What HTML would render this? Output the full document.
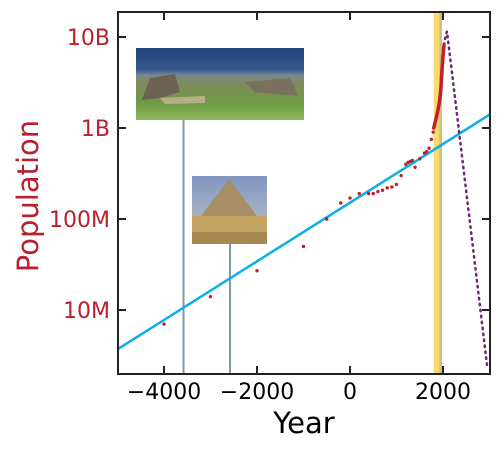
<!DOCTYPE html>
<html><head><meta charset="utf-8"><style>
body{margin:0;background:#fff}
svg{display:block;font-family:"DejaVu Sans","Liberation Sans",sans-serif}
</style></head><body>
<svg id="chart" width="501" height="450">
<defs>
<clipPath id="pc"><rect x="118" y="12" width="372" height="362"/></clipPath>
<linearGradient id="sea" x1="0" y1="0" x2="0" y2="1">
<stop offset="0" stop-color="#23407a"/><stop offset="0.3" stop-color="#34588f"/><stop offset="0.38" stop-color="#7a8a90"/><stop offset="0.5" stop-color="#7f8a5a"/><stop offset="0.75" stop-color="#6e9a45"/><stop offset="1" stop-color="#8cb85a"/>
</linearGradient>
<linearGradient id="egy" x1="0" y1="0" x2="0" y2="1">
<stop offset="0" stop-color="#8096c0"/><stop offset="0.6" stop-color="#a8b2c4"/><stop offset="0.62" stop-color="#c9a868"/><stop offset="1" stop-color="#b08a50"/>
</linearGradient>
</defs>
<g id="plot" clip-path="url(#pc)"></g>
<g id="axes"></g>
</svg>
<script>
const histYears=[-5000,-4000,-3000,-2000,-1000,-500,-200,0,200,400,500,600,700,800,900,1000,1100,1200,1250,1300,1340,1400,1500,1600,1650,1700,1750,1790];
const histPop=[5e6,7e6,14e6,27e6,50e6,100e6,150e6,170e6,190e6,190e6,190e6,200e6,207e6,220e6,225e6,240e6,300e6,400e6,420e6,430e6,440e6,370e6,460e6,530e6,550e6,600e6,750e6,900e6];
const modYears=[1800,1820,1850,1870,1900,1920,1927,1940,1950,1960,1970,1974,1980,1987,1990,1999,2005,2011,2015,2022];
const modPop=[1e9,1.1e9,1.26e9,1.4e9,1.65e9,1.9e9,2e9,2.3e9,2.5e9,3e9,3.7e9,4e9,4.4e9,5e9,5.3e9,6e9,6.5e9,7e9,7.4e9,8.2e9];
const projYears=[2022,2060,2085,2200,2500,2950];
const projPop=[8.2e9,10.5e9,11.5e9,3.8e9,2.0e8,2.4e6];
const trendYears=[-5000,3000];
const trendPop=[3.7e6,1.4e9];
const xTicks=[-4000,-2000,0,2000];
const xTickLabels=["\u22124000","\u22122000","0","2000"];
const yTicks=[1e7,1e8,1e9,1e10];
const yTickLabels=["10M","100M","1B","10B"];
const markerYears=[-3580,-2580];
const bandYears=[1800,1940];
const band2Years=[1920,1980];

const X=y=>350+y*0.0465;
const Y=v=>310-91*(Math.log10(v)-7);
const NS="http://www.w3.org/2000/svg";
const plot=document.getElementById('plot'),axes=document.getElementById('axes');
function mk(t,a,p){const e=document.createElementNS(NS,t);for(const k in a)e.setAttribute(k,a[k]);(p||plot).appendChild(e);return e;}

let e=mk('rect',{x:X(bandYears[0]),y:12,width:X(bandYears[1])-X(bandYears[0]),height:362,fill:'#fbd96b'});


e=mk('rect',{x:X(band2Years[0]),y:12,width:X(band2Years[1])-X(band2Years[0]),height:362,fill:'#cdbf8a'});



const imgTop=[[48,120],[176,244]];
markerYears.forEach((yr,i)=>{
  const l=mk('line',{x1:X(yr),x2:X(yr),y1:imgTop[i][1],y2:374,stroke:'#7f96a4','stroke-width':2});
  
  
});

e=mk('line',{x1:X(trendYears[0]),y1:Y(trendPop[0]),x2:X(trendYears[1]),y2:Y(trendPop[1]),stroke:'#0aaee8','stroke-width':2.5});



e=mk('polyline',{points:projYears.map((y,i)=>X(y)+','+Y(projPop[i])).join(' '),fill:'none',stroke:'#6b2a6b','stroke-width':2.5,'stroke-dasharray':'1.5 4.5','stroke-linecap':'round'});



histYears.forEach((y,i)=>{
  const c=mk('circle',{cx:X(y),cy:Y(histPop[i]),r:1.7,fill:'#c0202e'});
  
  
});
e=mk('polyline',{points:modYears.map((y,i)=>X(y)+','+Y(modPop[i])).join(' '),fill:'none',stroke:'#c0202e','stroke-width':3.5,'stroke-linecap':'round'});



// photos
e=mk('rect',{x:136,y:48,width:168,height:72,fill:'url(#sea)'});


mk('path',{d:'M142 100 L150 78 L175 74 L180 92 L160 98 Z',fill:'#6c6253'});
mk('path',{d:'M245 82 L290 78 L298 96 L255 92 Z',fill:'#7a7060'});
mk('path',{d:'M160 98 L205 96 L205 103 L165 104 Z',fill:'#b9ae8a'});
e=mk('rect',{x:192,y:176,width:75,height:68,fill:'url(#egy)'});


mk('polygon',{points:'229,179 198,220 260,220',fill:'#a88e66'});
mk('rect',{x:192,y:216,width:75,height:28,fill:'#c4a462'});
mk('rect',{x:192,y:232,width:75,height:12,fill:'#a8884e'});

// axes
e=mk('rect',{x:118,y:12,width:372,height:362,fill:'none',stroke:'#222','stroke-width':2},axes);


xTicks.forEach((t,i)=>{
  mk('line',{x1:X(t),x2:X(t),y1:374,y2:366,stroke:'#222','stroke-width':2},axes);
  mk('line',{x1:X(t),x2:X(t),y1:12,y2:20,stroke:'#222','stroke-width':2},axes);
  const tx=mk('text',{x:X(t),y:399,'text-anchor':'middle','font-size':22,fill:'#000'},axes);
  tx.textContent=xTickLabels[i];
  
  
});
yTicks.forEach((t,i)=>{
  mk('line',{x1:118,x2:126,y1:Y(t),y2:Y(t),stroke:'#222','stroke-width':2},axes);
  mk('line',{x1:490,x2:482,y1:Y(t),y2:Y(t),stroke:'#222','stroke-width':2},axes);
  const tx=mk('text',{x:110,y:Y(t)+8,'text-anchor':'end','font-size':22,fill:'#b8202e'},axes);
  tx.textContent=yTickLabels[i];
  
  
});
e=mk('text',{x:304,y:433,'text-anchor':'middle','font-size':29,fill:'#000'},axes);
e.textContent='Year';


e=mk('text',{x:38,y:196,'text-anchor':'middle','font-size':29,fill:'#b8202e',transform:'rotate(-90 38 196)'},axes);
e.textContent='Population';


</script>
</body></html>
